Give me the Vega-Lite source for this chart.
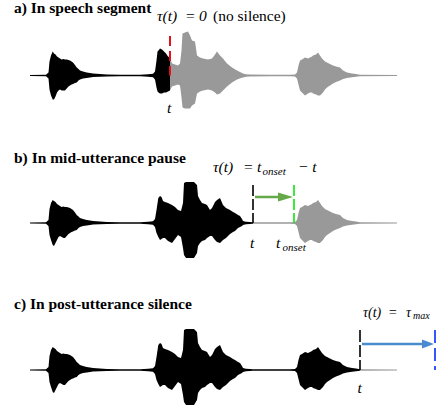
{
"$schema": "https://vega.github.io/schema/vega-lite/v6.json",
"padding": 0,
"spacing": 0,
"background": "white",
"config": {"view": {"stroke": null}, "concat": {"spacing": 0}},
"datasets": {
"env": [
{"time":30,"up":0.6,"lo":-0.6},{"time":46,"up":0.7,"lo":-0.7},{"time":48.5,"up":3,"lo":-3},{"time":49.5,"up":14,"lo":-12},{"time":51,"up":20,"lo":-17},{"time":52.7,"up":23,"lo":-22},{"time":54,"up":22,"lo":-23},{"time":55.5,"up":21,"lo":-20},{"time":57,"up":19,"lo":-17},{"time":58.5,"up":18,"lo":-14},{"time":60,"up":17,"lo":-13},{"time":61.7,"up":16,"lo":-14},{"time":63.5,"up":16.5,"lo":-15},{"time":65,"up":16,"lo":-15},{"time":66.7,"up":16,"lo":-13},{"time":68.5,"up":15.5,"lo":-11},{"time":70,"up":15,"lo":-10},{"time":71.5,"up":14,"lo":-9},{"time":73,"up":13,"lo":-8.5},{"time":75,"up":10.5,"lo":-7.5},{"time":76.7,"up":8,"lo":-7},{"time":78.5,"up":6.5,"lo":-5},{"time":80,"up":5,"lo":-4},{"time":83,"up":4,"lo":-3},{"time":86.7,"up":3,"lo":-2.5},{"time":90,"up":2.5,"lo":-2},{"time":93,"up":2,"lo":-1.5},{"time":100,"up":1.5,"lo":-1.2},{"time":107,"up":1,"lo":-1},{"time":120,"up":0.8,"lo":-0.8},{"time":140,"up":0.8,"lo":-0.8},{"time":148,"up":1.3,"lo":-1.3},{"time":153,"up":1.8,"lo":-1.8},{"time":155,"up":4,"lo":-4},{"time":156.5,"up":13,"lo":-10},{"time":158.3,"up":25,"lo":-14},{"time":160,"up":27,"lo":-17},{"time":161.5,"up":26,"lo":-16},{"time":163,"up":22,"lo":-15},{"time":165,"up":21,"lo":-15},{"time":168,"up":20,"lo":-18},{"time":170,"up":19,"lo":-19},{"time":172,"up":18,"lo":-20},{"time":175,"up":16,"lo":-16},{"time":178,"up":13,"lo":-12},{"time":181,"up":12,"lo":-14},{"time":183,"up":20,"lo":-25},{"time":184,"up":40,"lo":-32},{"time":186,"up":41,"lo":-35},{"time":190,"up":41,"lo":-35},{"time":194,"up":41,"lo":-35},{"time":197,"up":38,"lo":-30},{"time":198,"up":27,"lo":-23},{"time":200,"up":23,"lo":-20},{"time":202,"up":20,"lo":-18},{"time":205,"up":19,"lo":-17},{"time":207,"up":18,"lo":-15},{"time":210,"up":13,"lo":-13},{"time":212,"up":15,"lo":-13},{"time":215,"up":21,"lo":-17},{"time":217,"up":23,"lo":-19},{"time":220,"up":25,"lo":-20},{"time":223,"up":18,"lo":-17},{"time":226,"up":15,"lo":-15},{"time":228,"up":14,"lo":-13},{"time":230,"up":13,"lo":-11},{"time":233,"up":11,"lo":-9},{"time":235,"up":10,"lo":-8},{"time":238,"up":8,"lo":-5},{"time":240,"up":7,"lo":-4},{"time":242,"up":4,"lo":-3},{"time":243,"up":2,"lo":-2},{"time":246,"up":1.3,"lo":-1.3},{"time":250,"up":1,"lo":-1},{"time":253,"up":0.8,"lo":-0.8},{"time":270,"up":0.7,"lo":-0.7},{"time":290,"up":0.7,"lo":-0.7},{"time":295,"up":1,"lo":-1},{"time":297,"up":3,"lo":-3},{"time":298.5,"up":10,"lo":-9},{"time":300,"up":15,"lo":-15},{"time":302,"up":16,"lo":-17},{"time":305,"up":18,"lo":-20},{"time":308,"up":17,"lo":-18},{"time":310,"up":18,"lo":-17},{"time":312,"up":19,"lo":-17},{"time":313,"up":20,"lo":-18},{"time":316,"up":21,"lo":-19},{"time":318,"up":23,"lo":-20},{"time":320,"up":20,"lo":-20},{"time":322,"up":17,"lo":-18},{"time":323,"up":16,"lo":-17},{"time":325,"up":14,"lo":-14},{"time":327,"up":13,"lo":-12},{"time":330,"up":11.5,"lo":-10},{"time":333,"up":10,"lo":-8},{"time":336,"up":9,"lo":-6.5},{"time":340,"up":8,"lo":-5},{"time":343,"up":5,"lo":-3.5},{"time":347,"up":3,"lo":-2.5},{"time":352,"up":2,"lo":-1.8},{"time":356,"up":1.5,"lo":-1.2},{"time":360,"up":0.8,"lo":-0.8},{"time":397,"up":0.6,"lo":-0.6}
],
"envA": [
{"time":30,"up":0.6,"lo":-0.6},{"time":46,"up":0.7,"lo":-0.7},{"time":48.5,"up":3,"lo":-3},{"time":49.5,"up":14,"lo":-14},{"time":51,"up":20,"lo":-20},{"time":52.7,"up":24,"lo":-24},{"time":54,"up":22,"lo":-24},{"time":55.5,"up":21,"lo":-21},{"time":57,"up":19,"lo":-17},{"time":58.5,"up":18,"lo":-15},{"time":60,"up":17,"lo":-14},{"time":61.7,"up":16,"lo":-15},{"time":63.5,"up":16.5,"lo":-15},{"time":65,"up":16,"lo":-15},{"time":66.7,"up":16,"lo":-13},{"time":68.5,"up":15.5,"lo":-11},{"time":70,"up":15,"lo":-10},{"time":71.5,"up":14,"lo":-9},{"time":73,"up":13,"lo":-8.5},{"time":75,"up":10.5,"lo":-7.5},{"time":76.7,"up":8,"lo":-7},{"time":78.5,"up":6.5,"lo":-5},{"time":80,"up":5,"lo":-4},{"time":83,"up":4,"lo":-3},{"time":86.7,"up":3,"lo":-2.5},{"time":90,"up":2.5,"lo":-2},{"time":93,"up":2,"lo":-1.5},{"time":100,"up":1.5,"lo":-1.2},{"time":107,"up":1,"lo":-1},{"time":120,"up":0.8,"lo":-0.8},{"time":140,"up":0.8,"lo":-0.8},{"time":148,"up":1.3,"lo":-1.3},{"time":153,"up":1.8,"lo":-1.8},{"time":155,"up":4,"lo":-4},{"time":156.5,"up":15,"lo":-12},{"time":157.5,"up":24,"lo":-16},{"time":158.5,"up":25,"lo":-17},{"time":160,"up":27,"lo":-18},{"time":162,"up":26,"lo":-18},{"time":164,"up":24,"lo":-17},{"time":166,"up":22,"lo":-17},{"time":168,"up":19,"lo":-16},{"time":170,"up":18,"lo":-15},{"time":172,"up":12,"lo":-11},{"time":175,"up":11,"lo":-10},{"time":178,"up":10,"lo":-9},{"time":180,"up":12,"lo":-10},{"time":181.5,"up":25,"lo":-22},{"time":182.5,"up":42,"lo":-32},{"time":185,"up":43,"lo":-33},{"time":188,"up":44,"lo":-33},{"time":190,"up":40,"lo":-33},{"time":192,"up":35,"lo":-30},{"time":195,"up":34,"lo":-28},{"time":197,"up":20,"lo":-18},{"time":200,"up":18,"lo":-16},{"time":203,"up":17,"lo":-15},{"time":208,"up":16,"lo":-14},{"time":212,"up":17,"lo":-15},{"time":215,"up":21,"lo":-17},{"time":217,"up":24,"lo":-19},{"time":220,"up":20,"lo":-18},{"time":223,"up":17,"lo":-15},{"time":227,"up":12,"lo":-11},{"time":232,"up":8,"lo":-7},{"time":237,"up":5,"lo":-4},{"time":241,"up":3,"lo":-2.5},{"time":243,"up":2,"lo":-2},{"time":246,"up":1.3,"lo":-1.3},{"time":250,"up":1,"lo":-1},{"time":270,"up":0.7,"lo":-0.7},{"time":290,"up":0.7,"lo":-0.7},{"time":295,"up":1,"lo":-1},{"time":297,"up":3,"lo":-3},{"time":298.5,"up":10,"lo":-9},{"time":300,"up":15,"lo":-15},{"time":302,"up":16,"lo":-17},{"time":305,"up":18,"lo":-20},{"time":308,"up":17,"lo":-18},{"time":310,"up":18,"lo":-17},{"time":312,"up":19,"lo":-17},{"time":313,"up":20,"lo":-18},{"time":316,"up":21,"lo":-19},{"time":318,"up":23,"lo":-20},{"time":320,"up":20,"lo":-20},{"time":322,"up":17,"lo":-18},{"time":323,"up":16,"lo":-17},{"time":325,"up":14,"lo":-14},{"time":327,"up":13,"lo":-12},{"time":330,"up":11.5,"lo":-10},{"time":333,"up":10,"lo":-8},{"time":336,"up":9,"lo":-6.5},{"time":340,"up":8,"lo":-5},{"time":343,"up":5,"lo":-3.5},{"time":347,"up":3,"lo":-2.5},{"time":352,"up":2,"lo":-1.8},{"time":356,"up":1.5,"lo":-1.2},{"time":360,"up":0.8,"lo":-0.8},{"time":397,"up":0.6,"lo":-0.6}
]
},
"vconcat": [
{
"width": 441, "height": 140,
"layer": [
{"data": {"name": "envA"}, "transform": [{"filter": "datum.time <= 170"}],
 "mark": {"type": "area", "color": "#000000"},
 "encoding": {"x": {"field": "time", "type": "quantitative", "scale": {"domain": [0, 441], "nice": false, "zero": false}, "axis": null},
  "y": {"field": "up", "type": "quantitative", "scale": {"domain": [-64.5, 75.5], "nice": false, "zero": false}, "axis": null}, "y2": {"field": "lo"}}},
{"data": {"name": "envA"}, "transform": [{"filter": "datum.time >= 170"}],
 "mark": {"type": "area", "color": "#999999"},
 "encoding": {"x": {"field": "time", "type": "quantitative", "scale": {"domain": [0, 441], "nice": false, "zero": false}, "axis": null},
  "y": {"field": "up", "type": "quantitative", "scale": {"domain": [-64.5, 75.5], "nice": false, "zero": false}, "axis": null}, "y2": {"field": "lo"}}},
{"data": {"values": [{"time": 170, "top": 39.5, "bottom": 0}]},
 "mark": {"type": "rule", "color": "#e3101d", "strokeWidth": 2, "strokeDash": [10, 5]},
 "encoding": {"x": {"field": "time", "type": "quantitative"}, "y": {"field": "top", "type": "quantitative"}, "y2": {"field": "bottom"}}},
{"data": {"values": [{"time": 14, "amp": 62.5, "label": "a) In speech segment"}]},
 "mark": {"type": "text", "font": "Liberation Serif", "fontWeight": "bold", "fontSize": 15.5, "align": "left", "baseline": "alphabetic", "color": "#000"},
 "encoding": {"x": {"field": "time", "type": "quantitative"}, "y": {"field": "amp", "type": "quantitative"}, "text": {"field": "label"}}},
{"data": {"values": [{"time": 157, "amp": 55, "label": "τ(t)"}, {"time": 185, "amp": 55, "label": "="}, {"time": 199, "amp": 55, "label": "0"}, {"time": 167, "amp": -37.5, "label": "t"}]},
 "mark": {"type": "text", "font": "Liberation Serif", "fontStyle": "italic", "fontSize": 15.5, "align": "left", "baseline": "alphabetic", "color": "#000"},
 "encoding": {"x": {"field": "time", "type": "quantitative"}, "y": {"field": "amp", "type": "quantitative"}, "text": {"field": "label"}}},
{"data": {"values": [{"time": 213, "amp": 55, "label": "(no silence)"}]},
 "mark": {"type": "text", "font": "Liberation Serif", "fontSize": 15.5, "align": "left", "baseline": "alphabetic", "color": "#000"},
 "encoding": {"x": {"field": "time", "type": "quantitative"}, "y": {"field": "amp", "type": "quantitative"}, "text": {"field": "label"}}}
]
},
{
"width": 441, "height": 140,
"layer": [
{"data": {"name": "env"}, "transform": [{"filter": "datum.time <= 253"}],
 "mark": {"type": "area", "color": "#000000"},
 "encoding": {"x": {"field": "time", "type": "quantitative", "scale": {"domain": [0, 441], "nice": false, "zero": false}, "axis": null},
  "y": {"field": "up", "type": "quantitative", "scale": {"domain": [-57, 83], "nice": false, "zero": false}, "axis": null}, "y2": {"field": "lo"}}},
{"data": {"name": "env"}, "transform": [{"filter": "datum.time >= 253"}],
 "mark": {"type": "area", "color": "#999999"},
 "encoding": {"x": {"field": "time", "type": "quantitative", "scale": {"domain": [0, 441], "nice": false, "zero": false}, "axis": null},
  "y": {"field": "up", "type": "quantitative", "scale": {"domain": [-57, 83], "nice": false, "zero": false}, "axis": null}, "y2": {"field": "lo"}}},
{"data": {"values": [{"time": 253, "top": 38, "bottom": 0}]},
 "mark": {"type": "rule", "color": "#000000", "strokeWidth": 1.6, "strokeDash": [11, 3]},
 "encoding": {"x": {"field": "time", "type": "quantitative"}, "y": {"field": "top", "type": "quantitative"}, "y2": {"field": "bottom"}}},
{"data": {"values": [{"time": 294, "top": 38, "bottom": 0}]},
 "mark": {"type": "rule", "color": "#27e827", "strokeWidth": 1.8, "strokeDash": [11, 3]},
 "encoding": {"x": {"field": "time", "type": "quantitative"}, "y": {"field": "top", "type": "quantitative"}, "y2": {"field": "bottom"}}},
{"data": {"values": [{"from": 255, "to": 284, "amp": 26}]},
 "mark": {"type": "rule", "color": "#64a848", "strokeWidth": 2.5},
 "encoding": {"x": {"field": "from", "type": "quantitative"}, "x2": {"field": "to"}, "y": {"field": "amp", "type": "quantitative"}}},
{"data": {"values": [{"tip": 293, "amp": 26}]},
 "mark": {"type": "point", "shape": "M-1,-0.3L0,0L-1,0.3Z", "size": 900, "filled": true, "opacity": 1, "color": "#64a848"},
 "encoding": {"x": {"field": "tip", "type": "quantitative"}, "y": {"field": "amp", "type": "quantitative"}}},
{"data": {"values": [{"time": 14, "amp": 60, "label": "b) In mid-utterance pause"}]},
 "mark": {"type": "text", "font": "Liberation Serif", "fontWeight": "bold", "fontSize": 15.5, "align": "left", "baseline": "alphabetic", "color": "#000"},
 "encoding": {"x": {"field": "time", "type": "quantitative"}, "y": {"field": "amp", "type": "quantitative"}, "text": {"field": "label"}}},
{"data": {"values": [{"time": 213, "amp": 51, "label": "τ(t)"}, {"time": 243, "amp": 51, "label": "="}, {"time": 257, "amp": 51, "label": "t"}, {"time": 298, "amp": 51, "label": "− t"}, {"time": 250, "amp": -25, "label": "t"}, {"time": 276, "amp": -25, "label": "t"}]},
 "mark": {"type": "text", "font": "Liberation Serif", "fontStyle": "italic", "fontSize": 15.5, "align": "left", "baseline": "alphabetic", "color": "#000"},
 "encoding": {"x": {"field": "time", "type": "quantitative"}, "y": {"field": "amp", "type": "quantitative"}, "text": {"field": "label"}}},
{"data": {"values": [{"time": 262.5, "amp": 48, "label": "onset"}, {"time": 282.5, "amp": -28, "label": "onset"}]},
 "mark": {"type": "text", "font": "Liberation Serif", "fontStyle": "italic", "fontSize": 11, "align": "left", "baseline": "alphabetic", "color": "#000"},
 "encoding": {"x": {"field": "time", "type": "quantitative"}, "y": {"field": "amp", "type": "quantitative"}, "text": {"field": "label"}}}
]
},
{
"width": 441, "height": 129,
"layer": [
{"data": {"name": "env"}, "transform": [{"filter": "datum.time <= 360"}],
 "mark": {"type": "area", "color": "#000000"},
 "encoding": {"x": {"field": "time", "type": "quantitative", "scale": {"domain": [0, 441], "nice": false, "zero": false}, "axis": null},
  "y": {"field": "up", "type": "quantitative", "scale": {"domain": [-39, 90], "nice": false, "zero": false}, "axis": null}, "y2": {"field": "lo"}}},
{"data": {"name": "env"}, "transform": [{"filter": "datum.time >= 360"}],
 "mark": {"type": "area", "color": "#999999"},
 "encoding": {"x": {"field": "time", "type": "quantitative", "scale": {"domain": [0, 441], "nice": false, "zero": false}, "axis": null},
  "y": {"field": "up", "type": "quantitative", "scale": {"domain": [-39, 90], "nice": false, "zero": false}, "axis": null}, "y2": {"field": "lo"}}},
{"data": {"values": [{"time": 360, "top": 40, "bottom": 0}]},
 "mark": {"type": "rule", "color": "#000000", "strokeWidth": 1.6, "strokeDash": [12, 3]},
 "encoding": {"x": {"field": "time", "type": "quantitative"}, "y": {"field": "top", "type": "quantitative"}, "y2": {"field": "bottom"}}},
{"data": {"values": [{"time": 435, "top": 40, "bottom": 0}]},
 "mark": {"type": "rule", "color": "#3355ff", "strokeWidth": 2, "strokeDash": [13, 5]},
 "encoding": {"x": {"field": "time", "type": "quantitative"}, "y": {"field": "top", "type": "quantitative"}, "y2": {"field": "bottom"}}},
{"data": {"values": [{"from": 362, "to": 424, "amp": 26}]},
 "mark": {"type": "rule", "color": "#4a8ad0", "strokeWidth": 2.5},
 "encoding": {"x": {"field": "from", "type": "quantitative"}, "x2": {"field": "to"}, "y": {"field": "amp", "type": "quantitative"}}},
{"data": {"values": [{"tip": 434, "amp": 26}]},
 "mark": {"type": "point", "shape": "M-1,-0.375L0,0L-1,0.375Z", "size": 576, "filled": true, "opacity": 1, "color": "#4a8ad0"},
 "encoding": {"x": {"field": "tip", "type": "quantitative"}, "y": {"field": "amp", "type": "quantitative"}}},
{"data": {"values": [{"time": 14, "amp": 61, "label": "c) In post-utterance silence"}]},
 "mark": {"type": "text", "font": "Liberation Serif", "fontWeight": "bold", "fontSize": 15.5, "align": "left", "baseline": "alphabetic", "color": "#000"},
 "encoding": {"x": {"field": "time", "type": "quantitative"}, "y": {"field": "amp", "type": "quantitative"}, "text": {"field": "label"}}},
{"data": {"values": [{"time": 363, "amp": 53.5, "label": "τ(t)"}, {"time": 388, "amp": 53.5, "label": "="}, {"time": 406, "amp": 53.5, "label": "τ"}]},
 "mark": {"type": "text", "font": "Liberation Serif", "fontStyle": "italic", "fontSize": 14, "align": "left", "baseline": "alphabetic", "color": "#000"},
 "encoding": {"x": {"field": "time", "type": "quantitative"}, "y": {"field": "amp", "type": "quantitative"}, "text": {"field": "label"}}},
{"data": {"values": [{"time": 413, "amp": 51.5, "label": "max"}]},
 "mark": {"type": "text", "font": "Liberation Serif", "fontStyle": "italic", "fontSize": 10, "align": "left", "baseline": "alphabetic", "color": "#000"},
 "encoding": {"x": {"field": "time", "type": "quantitative"}, "y": {"field": "amp", "type": "quantitative"}, "text": {"field": "label"}}},
{"data": {"values": [{"time": 357.5, "amp": -23, "label": "t"}]},
 "mark": {"type": "text", "font": "Liberation Serif", "fontStyle": "italic", "fontSize": 15.5, "align": "left", "baseline": "alphabetic", "color": "#000"},
 "encoding": {"x": {"field": "time", "type": "quantitative"}, "y": {"field": "amp", "type": "quantitative"}, "text": {"field": "label"}}}
]
}
]
}
